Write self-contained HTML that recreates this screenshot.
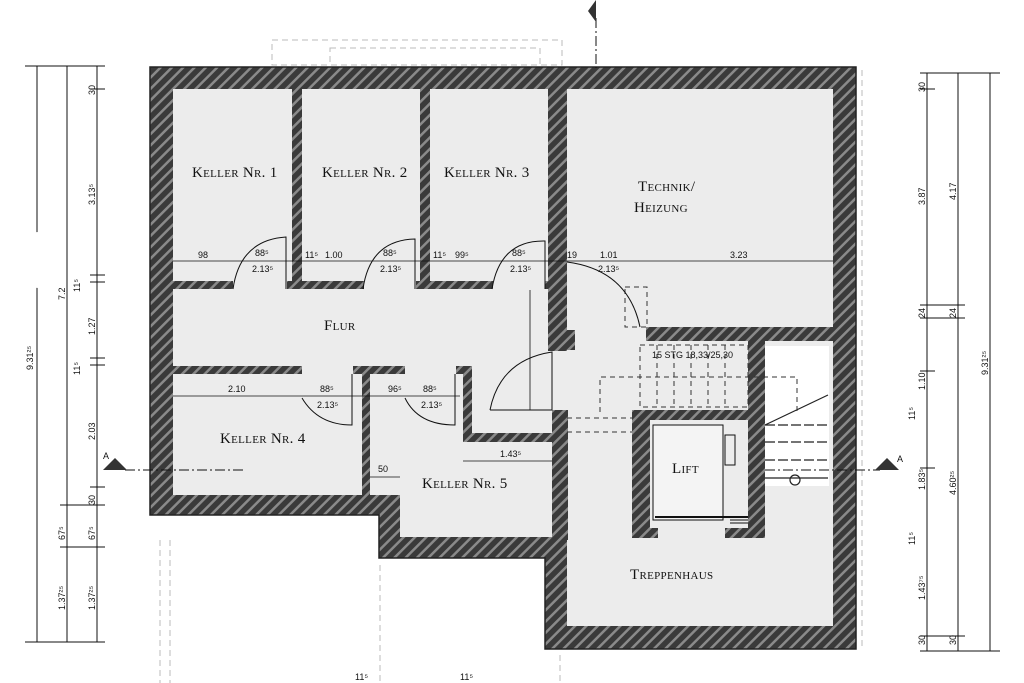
<!DOCTYPE html>
<html><head><meta charset="utf-8"><style>
html,body{margin:0;padding:0;background:#fff}
svg{display:block}
.lbl{font-family:"Liberation Serif",serif;font-variant:small-caps;font-size:15px;fill:#111;letter-spacing:0.3px}
.d{font-family:"Liberation Sans",sans-serif;font-size:9px;fill:#111}
</style></head><body>
<svg width="1024" height="683" viewBox="0 0 1024 683" xmlns="http://www.w3.org/2000/svg">
<defs>
<pattern id="h" width="8" height="8" patternUnits="userSpaceOnUse" patternTransform="rotate(45)">
<rect width="8" height="8" fill="#3a3a3a"/><rect x="0" width="2.5" height="8" fill="#8a8a8a"/>
</pattern>
</defs>
<rect width="1024" height="683" fill="#fff"/>
<!-- faint outside dashed lines -->
<g stroke="#bbb" stroke-width="1" fill="none" stroke-dasharray="6,4">
<rect x="272" y="40" width="290" height="25"/>
<rect x="330" y="48" width="210" height="17"/>
<line x1="160" y1="540" x2="160" y2="683"/><line x1="170" y1="540" x2="170" y2="683"/>
<line x1="380" y1="565" x2="380" y2="683"/><line x1="560" y1="655" x2="560" y2="683"/>
<line x1="862" y1="70" x2="862" y2="650"/>
</g>
<!-- outer walls -->
<polygon points="150,67 856,67 856,649 545,649 545,558 379,558 379,515 150,515" fill="url(#h)" stroke="#222" stroke-width="1.5"/>
<polygon points="173,89 833,89 833,626 567,626 567,537 400,537 400,495 173,495" fill="#ececec"/>
<!-- interior walls -->
<g fill="url(#h)">
<rect x="292" y="89" width="10" height="200"/>
<rect x="420" y="89" width="10" height="200"/>
<rect x="548" y="89" width="19" height="262"/>
<rect x="173" y="281" width="60" height="8"/>
<rect x="287" y="281" width="77" height="8"/>
<rect x="416" y="281" width="77" height="8"/>
<rect x="545" y="281" width="10" height="8"/>
<rect x="555" y="330" width="20" height="20"/>
<rect x="646" y="327" width="187" height="14"/>
<rect x="173" y="366" width="129" height="8"/>
<rect x="353" y="366" width="52" height="8"/>
<rect x="362" y="366" width="8" height="131"/>
<rect x="456" y="366" width="16" height="8"/>
<rect x="463" y="366" width="9" height="76"/>
<rect x="463" y="433" width="100" height="9"/>
<rect x="552" y="410" width="16" height="130"/>
<rect x="632" y="410" width="133" height="10"/>
<rect x="632" y="410" width="18" height="128"/>
<rect x="748" y="341" width="17" height="197"/>
<rect x="650" y="528" width="8" height="10"/>
<rect x="725" y="528" width="25" height="10"/>
</g>
<!-- stair & lift details -->
<rect x="765" y="346" width="64" height="140" fill="#fff"/>
<rect x="653" y="425" width="70" height="95" fill="#f4f4f4" stroke="#111"/>
<rect x="725" y="435" width="10" height="30" fill="none" stroke="#111"/>
<line x1="655" y1="517" x2="748" y2="517" stroke="#111" stroke-width="2"/>
<line x1="730" y1="520" x2="748" y2="520" stroke="#111"/><line x1="730" y1="523" x2="748" y2="523" stroke="#111"/>
<g stroke="#222" stroke-width="1.2" fill="none">
<line x1="765" y1="425" x2="828" y2="425" stroke-dasharray="10,3"/>
<line x1="765" y1="442" x2="828" y2="442" stroke-dasharray="10,3"/>
<line x1="765" y1="460" x2="828" y2="460" stroke-dasharray="10,3"/>
<line x1="765" y1="478" x2="828" y2="478"/>
<line x1="765" y1="425" x2="828" y2="395"/>
<circle cx="795" cy="480" r="5"/>
</g>
<g stroke="#333" stroke-width="1" fill="none" stroke-dasharray="5,4">
<rect x="640" y="345" width="108" height="62"/>
<polyline points="600,412 600,377 797,377 797,412"/>
<line x1="567" y1="418" x2="632" y2="418"/><line x1="567" y1="432" x2="632" y2="432"/>
<rect x="625" y="287" width="22" height="40"/>
<line x1="657" y1="345" x2="657" y2="407"/><line x1="674" y1="345" x2="674" y2="407"/>
<line x1="691" y1="345" x2="691" y2="407"/><line x1="708" y1="345" x2="708" y2="407"/>
<line x1="725" y1="345" x2="725" y2="407"/>
</g>
<text x="652" y="358" class="d" font-size="8">15 STG 18,33/25,30</text>
<!-- doors -->
<g stroke="#111" stroke-width="1" fill="none">
<path d="M233,289 Q240,240 286,237 L286,289"/>
<path d="M363,289 Q370,240 415,239 L415,289"/>
<path d="M492,289 Q500,240 545,241 L545,289"/>
<path d="M567,262 Q628,270 640,327"/>
<path d="M302,398 Q318,425 352,425 L352,374"/>
<path d="M405,398 Q418,425 455,425 L455,374"/>
<path d="M490,410 Q500,360 552,352 L552,410 L490,410"/>
</g>
<!-- horizontal dimension lines -->
<g stroke="#111" stroke-width="0.8">
<line x1="173" y1="261" x2="833" y2="261"/>
<line x1="173" y1="396" x2="460" y2="396"/>
<line x1="463" y1="461" x2="552" y2="461"/>
<line x1="370" y1="477" x2="400" y2="477"/>
<line x1="530" y1="290" x2="530" y2="410"/>
</g>
<g class="d">
<text x="198" y="258">98</text><text x="255" y="256">88⁵</text><text x="252" y="272">2.13⁵</text>
<text x="305" y="258">11⁵</text><text x="325" y="258">1.00</text><text x="383" y="256">88⁵</text><text x="380" y="272">2.13⁵</text>
<text x="433" y="258">11⁵</text><text x="455" y="258">99⁵</text><text x="512" y="256">88⁵</text><text x="510" y="272">2.13⁵</text>
<text x="567" y="258">19</text><text x="600" y="258">1.01</text><text x="598" y="272">2.13⁵</text><text x="730" y="258">3.23</text>
<text x="228" y="392">2.10</text><text x="320" y="392">88⁵</text><text x="317" y="408">2.13⁵</text>
<text x="388" y="392">96⁵</text><text x="423" y="392">88⁵</text><text x="421" y="408">2.13⁵</text>
<text x="500" y="457">1.43⁵</text><text x="378" y="472">50</text>
</g>
<!-- labels -->
<text x="192" y="177" class="lbl">Keller Nr. 1</text>
<text x="322" y="177" class="lbl">Keller Nr. 2</text>
<text x="444" y="177" class="lbl">Keller Nr. 3</text>
<text x="638" y="191" class="lbl" font-size="17">Technik/</text>
<text x="634" y="212" class="lbl" font-size="17">Heizung</text>
<text x="324" y="330" class="lbl">Flur</text>
<text x="220" y="443" class="lbl">Keller Nr. 4</text>
<text x="422" y="488" class="lbl">Keller Nr. 5</text>
<text x="672" y="473" class="lbl">Lift</text>
<text x="630" y="579" class="lbl" font-size="14">Treppenhaus</text>
<!-- section A -->
<g stroke="#111" stroke-width="1" stroke-dasharray="10,3,2,3" fill="none">
<line x1="125" y1="470" x2="245" y2="470"/>
<line x1="765" y1="470" x2="880" y2="470"/>
<line x1="596" y1="18" x2="596" y2="68"/>
</g>
<polygon points="103,470 115,458 127,470" fill="#333"/><text x="103" y="459" class="d">A</text>
<polygon points="875,470 887,458 899,470" fill="#333"/><text x="897" y="462" class="d">A</text>
<polygon points="596,0 596,22 588,11" fill="#333"/>
<!-- left dims -->
<g stroke="#111" stroke-width="1">
<line x1="37" y1="66" x2="37" y2="642"/><line x1="67" y1="66" x2="67" y2="642"/><line x1="97" y1="66" x2="97" y2="642"/>
<line x1="25" y1="66" x2="105" y2="66"/><line x1="25" y1="642" x2="105" y2="642"/>
<line x1="90" y1="89" x2="105" y2="89"/><line x1="90" y1="275" x2="105" y2="275"/><line x1="90" y1="282" x2="105" y2="282"/>
<line x1="90" y1="358" x2="105" y2="358"/><line x1="90" y1="365" x2="105" y2="365"/><line x1="90" y1="487" x2="105" y2="487"/>
<line x1="60" y1="505" x2="105" y2="505"/><line x1="60" y1="547" x2="105" y2="547"/>
<line x1="920" y1="73" x2="1000" y2="73"/><line x1="920" y1="651" x2="1000" y2="651"/>
<line x1="927" y1="73" x2="927" y2="651"/><line x1="958" y1="73" x2="958" y2="651"/><line x1="990" y1="73" x2="990" y2="651"/>
<line x1="920" y1="89" x2="935" y2="89"/><line x1="920" y1="305" x2="965" y2="305"/><line x1="920" y1="318" x2="965" y2="318"/>
<line x1="920" y1="371" x2="935" y2="371"/><line x1="920" y1="468" x2="935" y2="468"/><line x1="920" y1="636" x2="965" y2="636"/>
</g>
<rect x="18" y="232" width="44" height="56" rx="20" fill="#fff"/>
<g class="d" font-size="10">
<text transform="translate(33,370) rotate(-90)">9.31²⁵</text>
<text transform="translate(65,300) rotate(-90)">7.2</text>
<text transform="translate(95,95) rotate(-90)">30</text>
<text transform="translate(95,205) rotate(-90)">3.13⁵</text>
<text transform="translate(80,292) rotate(-90)">11⁵</text>
<text transform="translate(95,335) rotate(-90)">1.27</text>
<text transform="translate(80,375) rotate(-90)">11⁵</text>
<text transform="translate(95,440) rotate(-90)">2.03</text>
<text transform="translate(95,505) rotate(-90)">30</text>
<text transform="translate(65,540) rotate(-90)">67⁵</text><text transform="translate(95,540) rotate(-90)">67⁵</text>
<text transform="translate(65,610) rotate(-90)">1.37²⁵</text><text transform="translate(95,610) rotate(-90)">1.37²⁵</text>
<text transform="translate(925,92) rotate(-90)">30</text>
<text transform="translate(925,205) rotate(-90)">3.87</text>
<text transform="translate(956,200) rotate(-90)">4.17</text>
<text transform="translate(925,318) rotate(-90)">24</text><text transform="translate(956,318) rotate(-90)">24</text>
<text transform="translate(988,375) rotate(-90)">9.31²⁵</text>
<text transform="translate(925,390) rotate(-90)">1.10</text>
<text transform="translate(915,420) rotate(-90)">11⁵</text>
<text transform="translate(925,490) rotate(-90)">1.83⁵</text>
<text transform="translate(956,495) rotate(-90)">4.60²⁵</text>
<text transform="translate(915,545) rotate(-90)">11⁵</text>
<text transform="translate(925,600) rotate(-90)">1.43⁷⁵</text>
<text transform="translate(925,645) rotate(-90)">30</text><text transform="translate(956,645) rotate(-90)">30</text>
<text x="355" y="680">11⁵</text><text x="460" y="680">11⁵</text>
</g>
</svg>
</body></html>
